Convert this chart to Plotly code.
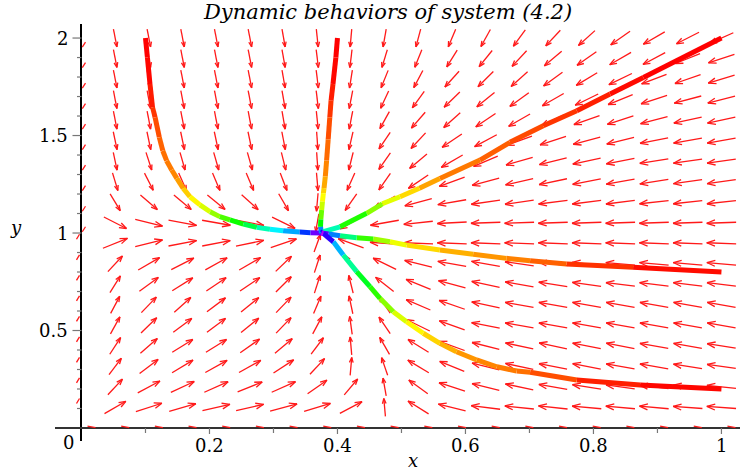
import math
import colorsys
import numpy as np
import plotly.graph_objects as go

# ---------------- data ----------------
title_text = "Dynamic behaviors of system (4.2)"
x_ticks = [0.2, 0.4, 0.6, 0.8, 1]
x_tick_labels = ["0.2", "0.4", "0.6", "0.8", "1"]
y_ticks = [0.5, 1, 1.5, 2]
y_tick_labels = ["0.5", "1", "1.5", "2"]

# direction-field grid (20 x 20, Maple default)
grid_x = np.linspace(0, 1, 20)
grid_y = np.linspace(0, 2, 20)

# arrow directions (degrees on screen, counter-clockwise from +x), read per grid point.
# rows from top (y=2) down to y=0.105; columns for x index 1..19
arrow_angles = [
    [-79, -79, -79, -79, -79, -80, -84, -95, -100, -105, -113, -119, -126, -133, -138, -145, -150, -153, -156],
    [-79, -79, -79, -79, -79, -80, -83, -97, -107, -112, -122, -129, -133, -140, -145, -150, -152, -158, -162],
    [-79, -79, -79, -79, -79, -80, -83, -99, -112, -118, -132, -135, -138, -144, -149, -154, -159, -161, -163],
    [-79, -79, -79, -79, -79, -80, -83, -101, -115, -126, -136, -141, -144, -150, -154, -158, -162, -165, -166],
    [-79, -79, -79, -79, -79, -80, -84, -101, -119, -131, -138, -146, -150, -155, -161, -162, -165, -168, -168],
    [-78, -78, -78, -78, -78, -79, -86, -103, -124, -133, -146, -152, -160, -162, -165, -166, -169, -170, -170],
    [-78, -72, -74, -74, -74, -76, -86, -104, -125, -140, -150, -157, -164, -166, -168, -169, -171, -172, -172],
    [-73, -63, -66, -67, -67, -69, -85, -114, -125, -146, -160, -165, -167, -168, -169, -170, -171, -172, -172],
    [-59, -41, -40, -39, -42, -60, -95, -125, -150, -165, -170, -172, -172, -173, -173, -173, -174, -174, -174],
    [-27, -14, -11, -10, -11, -26, -100, -150, -170, -174, -177, -178, -178, -178, -178, -178, -178, -178, -178],
    [22, 14, 11, 11, 12, 19, 70, 160, 176, 178, 178, 178, 178, 178, 178, 178, 178, 178, 178],
    [47, 30, 27, 29, 30, 44, 72, 125, 154, 166, 170, 170, 172, 173, 174, 175, 175, 175, 175],
    [58, 36, 32, 34, 34, 45, 72, 104, 142, 158, 165, 168, 170, 171, 172, 173, 173, 173, 173],
    [62, 46, 42, 37, 39, 46, 67, 102, 124, 157, 161, 168, 170, 170, 170, 170, 170, 170, 170],
    [61, 44, 37, 37, 39, 46, 62, 98, 124, 154, 160, 169, 170, 170, 170, 170, 170, 170, 170],
    [57, 41, 32, 32, 35, 40, 53, 95, 120, 148, 160, 166, 168, 168, 169, 169, 170, 170, 171],
    [53, 37, 31, 29, 29, 33, 47, 85, 109, 149, 158, 166, 168, 169, 169, 170, 170, 171, 172],
    [47, 28, 25, 24, 22, 24, 35, 50, 100, 144, 162, 166, 168, 170, 171, 172, 173, 173, 174],
    [30, 18, 16, 13, 13, 15, 17, 28, 95, 148, 166, 173, 174, 174, 175, 175, 175, 176, 176],
]

# solution curves and colour hue at each point
t1_x = [0.100, 0.103, 0.107, 0.111, 0.115, 0.1216, 0.127, 0.133, 0.141, 0.149, 0.159, 0.1695, 0.185, 0.201,
        0.216, 0.232, 0.253, 0.274, 0.2945, 0.315, 0.341, 0.358, 0.375]
t1_y = [2.000, 1.900, 1.764, 1.645, 1.593, 1.491, 1.422, 1.371, 1.323, 1.280, 1.229, 1.186, 1.144, 1.109,
        1.084, 1.067, 1.046, 1.029, 1.019, 1.012, 1.005, 1.002, 1.000]
t1_h = [0, 0, 3, 10, 15, 22, 25, 28, 30, 33, 42, 55, 62, 75, 95, 110, 125, 150, 175, 190, 210, 245, 285]

t2_x = [0.400, 0.3975, 0.393, 0.390, 0.388, 0.3855, 0.383, 0.381, 0.379, 0.378, 0.3765, 0.3753, 0.374, 0.3735, 0.375]
t2_y = [2.000, 1.900, 1.764, 1.680, 1.593, 1.480, 1.371, 1.290, 1.230, 1.204, 1.160, 1.118, 1.070, 1.032, 1.000]
t2_h = [0, 0, 3, 10, 15, 22, 28, 35, 45, 55, 65, 80, 110, 130, 285]

t3_x = [1.000, 0.878, 0.826, 0.774, 0.7216, 0.6695, 0.6227, 0.560, 0.528, 0.4977, 0.470, 0.4456, 0.404, 0.378, 0.375]
t3_y = [2.000, 1.798, 1.713, 1.627, 1.550, 1.465, 1.374, 1.280, 1.230, 1.186, 1.150, 1.101, 1.032, 1.007, 1.000]
t3_h = [0, 0, 5, 10, 15, 20, 25, 32, 45, 58, 75, 100, 125, 200, 285]

t4_x = [1.000, 0.862, 0.758, 0.701, 0.664, 0.612, 0.560, 0.508, 0.482, 0.456, 0.430, 0.404, 0.386, 0.375]
t4_y = [0.800, 0.824, 0.841, 0.858, 0.870, 0.891, 0.913, 0.938, 0.955, 0.969, 0.976, 0.986, 0.995, 1.000]
t4_h = [0, 6, 18, 28, 33, 38, 45, 58, 70, 95, 120, 180, 240, 285]

t5_x = [1.000, 0.873, 0.774, 0.701, 0.680, 0.649, 0.6175, 0.586, 0.560, 0.534, 0.508, 0.4872, 0.4664, 0.4508,
        0.430, 0.409, 0.3935, 0.3778, 0.375]
t5_y = [0.200, 0.2205, 0.246, 0.286, 0.292, 0.314, 0.349, 0.391, 0.434, 0.486, 0.545, 0.596, 0.665, 0.725,
        0.802, 0.887, 0.955, 0.998, 1.000]
t5_h = [0, 3, 12, 25, 28, 30, 33, 38, 45, 55, 62, 75, 100, 120, 135, 175, 220, 280, 285]

curves = [(t1_x, t1_y, t1_h), (t2_x, t2_y, t2_h), (t3_x, t3_y, t3_h),
          (t4_x, t4_y, t4_h), (t5_x, t5_y, t5_h)]

# ---------------- layout geometry ----------------
W, H = 742, 473
ML, MR, MT, MB = 55, 2, 24, 32
X_RANGE = [-0.0414, 1.029]
Y_RANGE = [-0.0667, 2.072]
PX_X = (W - ML - MR) / (X_RANGE[1] - X_RANGE[0])   # pixels per x unit
PX_Y = (H - MT - MB) / (Y_RANGE[1] - Y_RANGE[0])   # pixels per y unit

ARROW_LEN = 0.046          # arrow length in range-normalised units
HEAD_FRAC = 0.30
HEAD_ANG = 20


def hue_rgb(h):
    r, g, b = [int(255 * v) for v in colorsys.hsv_to_rgb((h % 360) / 360.0, 1.0, 1.0)]
    return f"rgb({r},{g},{b})"


fig = go.Figure()

# --- direction field ---
ax, ay = [], []
for r, row in enumerate(arrow_angles):
    j = 19 - r
    yc = grid_y[j]
    for c, ang in enumerate(row):
        xc = grid_x[c + 1]
        th = math.radians(ang)
        cx, cy = math.cos(th), math.sin(th)
        nu = cx / PX_X
        nv = cy / (PX_Y * 2)
        nn = math.hypot(nu, nv)
        du, dv = nu / nn * ARROW_LEN, nv / nn * ARROW_LEN
        dx, dy = du, 2 * dv
        x0, y0 = xc - dx / 2, yc - dy / 2
        x1, y1 = xc + dx / 2, yc + dy / 2
        ax += [x0, x1, None]
        ay += [y0, y1, None]
        pl = math.hypot(dx * PX_X, dy * PX_Y)
        hl = pl * HEAD_FRAC
        for s in (1, -1):
            a = th + math.pi + s * math.radians(HEAD_ANG)
            hx = x1 + hl * math.cos(a) / PX_X
            hy = y1 + hl * math.sin(a) / PX_Y
            ax += [x1, hx, None]
            ay += [y1, hy, None]

# degenerate arrows on the axes (drawn as tiny marks)
for j in range(1, 20):
    xc, yc = grid_x[0], grid_y[j]
    if yc > 1:
        ax += [xc + 4 / PX_X, xc + 0.8 / PX_X, None]
        ay += [yc - 4 / PX_Y, yc - 9 / PX_Y, None]
    else:
        ax += [xc - 5 / PX_X, xc - 2 / PX_X, None]
        ay += [yc + 4 / PX_Y, yc + 9 / PX_Y, None]
for i in range(0, 20):
    xc, yc = grid_x[i], grid_y[0]
    ax += [xc + 6 / PX_X, xc + 14 / PX_X, None]
    ay += [yc + 1.8 / PX_Y, yc + 0.3 / PX_Y, None]

fig.add_trace(go.Scatter(x=ax, y=ay, mode="lines", line=dict(color="rgb(255,25,25)", width=1.3),
                         hoverinfo="skip", showlegend=False))

# --- solution curves, coloured segment by segment ---
for xs, ys, hs in curves:
    for k in range(len(xs) - 1):
        hm = (hs[k] + hs[k + 1]) / 2
        fig.add_trace(go.Scatter(x=[xs[k], xs[k + 1]], y=[ys[k], ys[k + 1]], mode="lines",
                                 line=dict(color=hue_rgb(hm), width=5),
                                 hoverinfo="skip", showlegend=False))

# --- axis ticks ---
tx, ty = [], []
for k in range(1, 21):
    v = k / 10
    L = 9 if k % 5 == 0 else 4.5
    tx += [-L / PX_X, 0, None]
    ty += [v, v, None]
for k in range(1, 11):
    v = k / 10
    L = 6 if k % 2 == 0 else 5
    tx += [v, v, None]
    ty += [0, -L / PX_Y, None]
fig.add_trace(go.Scatter(x=tx, y=ty, mode="lines", line=dict(color="#777", width=1.2),
                         hoverinfo="skip", showlegend=False))

serif = "'DejaVu Serif', 'Liberation Serif', serif"
FS = 18
ann = []
for v, t in zip(x_ticks, x_tick_labels):
    ann.append(dict(x=v, y=0, xref="x", yref="y", text=t, showarrow=False, yanchor="top", yshift=-5,
                    font=dict(family=serif, size=FS, color="black")))
for v, t in zip(y_ticks, y_tick_labels):
    ann.append(dict(x=0, y=v, xref="x", yref="y", text=t, showarrow=False, xanchor="right", xshift=-11,
                    font=dict(family=serif, size=FS, color="black")))
ann.append(dict(x=0, y=0, xref="x", yref="y", text="0", showarrow=False, xanchor="right", yanchor="top",
                xshift=-5, yshift=-2, font=dict(family=serif, size=FS, color="black")))
ann.append(dict(x=0.518, y=(441 - 461) / 417, xref="x", yref="paper", text="<i>x</i>", showarrow=False,
                xanchor="center", yanchor="middle", font=dict(family=serif, size=FS, color="black")))
ann.append(dict(x=(16 - 55) / 685, y=1.03, xref="paper", yref="y", text="<i>y</i>", showarrow=False,
                xanchor="center", yanchor="middle", font=dict(family=serif, size=FS, color="black")))

fig.update_layout(
    width=W, height=H,
    margin=dict(l=ML, r=MR, t=MT, b=MB),
    paper_bgcolor="white", plot_bgcolor="white",
    title=dict(text="<i>" + title_text + "</i>", x=0.523, xref="container", y=0.975, yref="container",
               xanchor="center", yanchor="middle", font=dict(family=serif, size=21, color="black")),
    xaxis=dict(range=X_RANGE, showgrid=False, showticklabels=False, ticks="", showline=False,
               zeroline=True, zerolinecolor="black", zerolinewidth=2),
    yaxis=dict(range=Y_RANGE, showgrid=False, showticklabels=False, ticks="", showline=False,
               zeroline=True, zerolinecolor="#333", zerolinewidth=1.5),
    annotations=ann,
)

fig.write_html("out.html", config={"displayModeBar": False},
               post_script="document.body.style.margin='0px';")
